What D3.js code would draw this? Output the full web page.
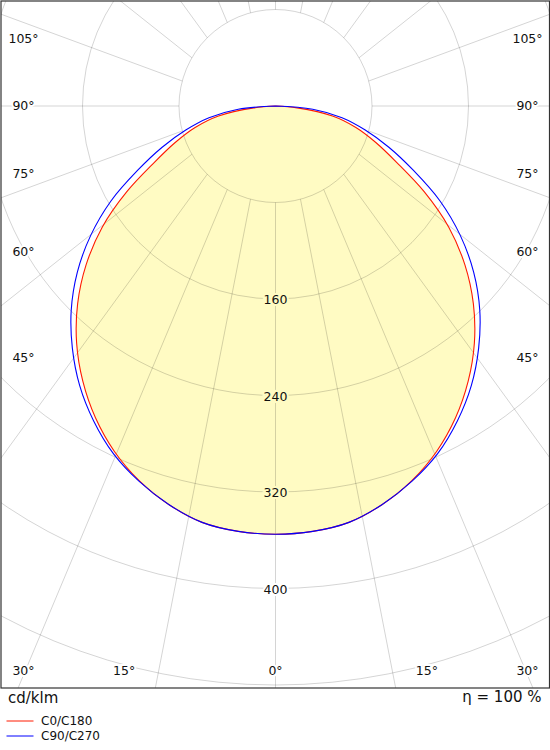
<!DOCTYPE html>
<html>
<head>
<meta charset="utf-8">
<script src="https://cdn.jsdelivr.net/npm/d3@7/dist/d3.min.js"></script>
<style>
  body { margin: 0; background: #fff; }
  text { font-family: "DejaVu Sans", Verdana, sans-serif; fill: #111; }
</style>
</head>
<body>
<svg width="550" height="750"></svg>
<script>
// luminous intensity, cd/klm, per gamma angle
var gammaAngles = [0, 5, 10, 15, 20, 25, 30, 35, 40, 45, 50, 55, 60, 65, 70, 75, 80, 85, 90];
var c0c180 = [355, 354, 350.5, 342, 330.5, 316, 298.5, 278.5, 256.5, 232, 205, 175.5, 142.5, 111, 88.5, 69, 48, 18, 0];
var c90c270 = [355, 354, 350.5, 342, 331, 318, 301.5, 283, 262, 239.5, 214.5, 187, 157.5, 126, 100, 77, 56, 31, 0];

var ringValues = [80, 160, 240, 320, 400, 480, 560, 640];
var ringLabels = [160, 240, 320, 400];
var spokeAngles = [0, 15, 30, 45, 60, 75, 90, 105, 120, 135, 150, 165, 180,
                   195, 210, 225, 240, 255, 270, 285, 300, 315, 330, 345];
var angleLabels = [0, 15, 30, 45, 60, 75, 90, 105];

var seriesNames = ['C0/C180', 'C90/C270'];
var seriesColors = ['#ff1a00', '#0000ff'];
var FILL = '#fffbc3';

var CX = 275.5, CY = 106;
var SPOKE_SQUASH = 0.74;

var svg = d3.select('svg');
var r = d3.scaleLinear().domain([0, 80]).range([0, 96.5]);
var rad = function (deg) { return deg * Math.PI / 180; };

svg.append('clipPath').attr('id', 'frame')
  .append('rect').attr('x', 1).attr('y', 1).attr('width', 548.5).attr('height', 687);

var plot = svg.append('g').attr('clip-path', 'url(#frame)')
  .append('g').attr('transform', 'translate(' + CX + ',' + CY + ')');

// both halves of a C-plane, left side first
var curvePoints = function (values) {
  var pts = [];
  for (var i = gammaAngles.length - 1; i >= 0; i--)
    pts.push({ a: Math.PI + rad(gammaAngles[i]), v: values[i] });
  for (var j = 1; j < gammaAngles.length; j++)
    pts.push({ a: Math.PI - rad(gammaAngles[j]), v: values[j] });
  return pts;
};

var line = d3.lineRadial()
  .angle(function (d) { return d.a; })
  .radius(function (d) { return r(d.v); })
  .curve(d3.curveCatmullRom.alpha(0.5));

plot.append('path')
  .attr('d', line(curvePoints(c0c180)) + 'Z')
  .attr('fill', FILL);

// grid
var grid = plot.append('g')
  .attr('fill', 'none')
  .attr('stroke', '#000')
  .attr('stroke-opacity', 0.17)
  .attr('stroke-width', 1);

grid.selectAll('circle').data(ringValues).enter().append('circle')
  .attr('r', function (d) { return r(d); });

grid.selectAll('line').data(spokeAngles).enter().append('line')
  .attr('x1', function (d) { return r(ringValues[0]) * Math.sin(rad(d)); })
  .attr('y1', function (d) { return r(ringValues[0]) * Math.cos(rad(d)); })
  .attr('x2', function (d) { return 2000 * SPOKE_SQUASH * Math.sin(rad(d)); })
  .attr('y2', function (d) { return 2000 * Math.cos(rad(d)); });

// curves
[c0c180, c90c270].forEach(function (values, i) {
  plot.append('path')
    .attr('d', line(curvePoints(values)))
    .attr('fill', 'none')
    .attr('stroke', seriesColors[i])
    .attr('stroke-width', 1.1);
});

// ring labels
plot.selectAll('text.ring').data(ringLabels).enter().append('text')
  .attr('class', 'ring')
  .attr('x', 0)
  .attr('y', function (d) { return r(d) + 1; })
  .attr('dy', '0.35em')
  .attr('text-anchor', 'middle')
  .attr('font-size', 12.5)
  .attr('stroke', function (d) { return d < c0c180[0] ? FILL : '#fff'; })
  .attr('stroke-width', 4)
  .attr('paint-order', 'stroke')
  .text(function (d) { return d; });

// angle labels, placed along the ray and kept inside the frame
var SIDE = 252, BOTTOM = 565;
var labelPos = function (g, sign) {
  var t = rad(g);
  if (g < 45) {
    var x = BOTTOM * Math.tan(t);
    return [sign * Math.min(x, SIDE), BOTTOM];
  }
  return [sign * SIDE, SIDE / Math.tan(t)];
};
var labelData = [];
angleLabels.forEach(function (g) {
  labelData.push({ g: g, p: labelPos(g, -1) });
  if (g > 0) labelData.push({ g: g, p: labelPos(g, 1) });
});

plot.selectAll('text.ang').data(labelData).enter().append('text')
  .attr('class', 'ang')
  .attr('x', function (d) { return d.p[0]; })
  .attr('y', function (d) { return d.p[1]; })
  .attr('dy', '0.35em')
  .attr('text-anchor', 'middle')
  .attr('font-size', 12.5)
  .attr('stroke', '#fff')
  .attr('stroke-width', 4)
  .attr('paint-order', 'stroke')
  .text(function (d) { return d.g + '°'; });

// frame
svg.append('rect')
  .attr('x', 1).attr('y', 1).attr('width', 548.5).attr('height', 687)
  .attr('fill', 'none').attr('stroke', '#333').attr('stroke-width', 1.2);

svg.append('text').attr('x', 8).attr('y', 702.5)
  .attr('font-size', 15).text('cd/klm');
svg.append('text').attr('x', 541.5).attr('y', 702)
  .attr('font-size', 15).attr('text-anchor', 'end').text('η = 100 %');

// legend
var legend = svg.selectAll('g.leg').data(seriesNames).enter().append('g')
  .attr('class', 'leg')
  .attr('transform', function (d, i) { return 'translate(0,' + (721 + i * 15) + ')'; });
legend.append('line')
  .attr('x1', 6.5).attr('x2', 33.5)
  .attr('stroke', function (d, i) { return seriesColors[i]; })
  .attr('stroke-width', 1);
legend.append('text')
  .attr('x', 41).attr('dy', '0.35em')
  .attr('font-size', 12).text(function (d) { return d; });
</script>
</body>
</html>
